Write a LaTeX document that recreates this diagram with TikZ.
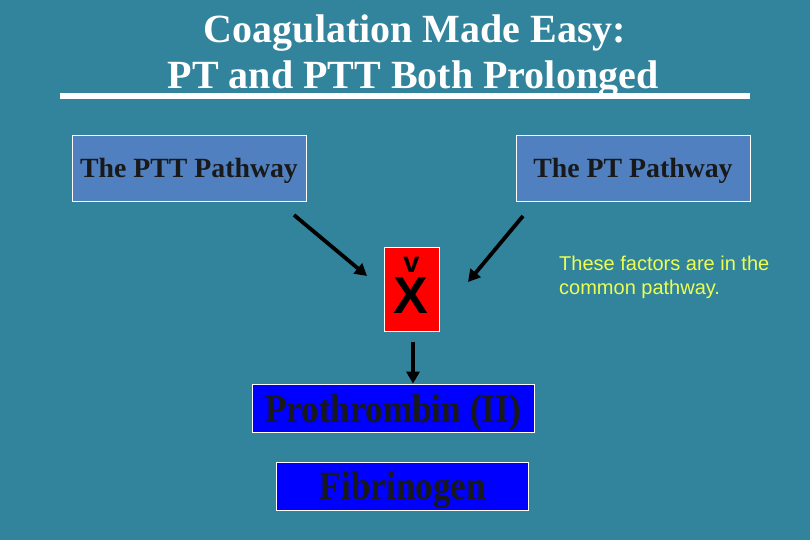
\documentclass[tikz,border=0pt]{standalone}
\usepackage{fontspec}
\setmainfont{Liberation Serif}
\newfontfamily\arialfont{Liberation Sans}
\newfontfamily\condserif[FakeStretch=0.88]{Liberation Serif}
\usetikzlibrary{arrows.meta}
\definecolor{bg}{RGB}{50,131,156}
\definecolor{pathblue}{RGB}{80,128,192}
\definecolor{pureblue}{RGB}{0,0,255}
\definecolor{xred}{RGB}{255,0,0}
\definecolor{noteyellow}{RGB}{236,255,80}
\tikzset{
  pathbox/.style={draw=white, line width=0.8pt, fill=pathblue, minimum width=234pt, minimum height=66pt, inner sep=0pt},
  pathtext/.style={anchor=base, inner sep=0pt, font=\bfseries\fontsize{27.8}{30}\selectfont, text=black!90},
  bluebox/.style={draw=white, line width=0.8pt, fill=pureblue, inner sep=0pt, minimum height=48pt},
  bluetext/.style={anchor=base, inner sep=0pt, font=\condserif\bfseries\fontsize{40}{40}\selectfont, text=black!90},
  arr/.style={line width=3.8pt, -{Triangle[length=12pt,width=13pt]}, black},
}
\begin{document}
\begin{tikzpicture}[x=1pt,y=-1pt]
\fill[bg] (0,0) rectangle (810,540);
\useasboundingbox (0,0) rectangle (810,540);
\node[font=\bfseries\fontsize{40}{46}\selectfont, text=white, anchor=base, inner sep=0pt] (title1) at (415,43) {Coagulation Made Easy:};
\node[font=\bfseries\fontsize{40}{46}\selectfont, text=white, anchor=base, inner sep=0pt] (title2) at (413,89) {PT and PTT Both Prolonged};
\fill[white] (60,93) rectangle (750,99);
\node[pathbox] (ptt) at (189,168) {};
\node[pathtext] (ptttext) at (189,177) {The PTT Pathway};
\node[pathbox] (pt) at (633,168) {};
\node[pathtext] (pttext) at (633,177) {The PT Pathway};
\node[draw=white, line width=0.8pt, fill=xred, minimum width=55pt, minimum height=84pt, inner sep=0pt] (x) at (411.5,289) {};
\node[font=\arialfont\bfseries\fontsize{29}{29}\selectfont, inner sep=0pt, anchor=base] (v) at (411.5,272) {v};
\node[font=\arialfont\bfseries\fontsize{52}{52}\selectfont, inner sep=0pt, anchor=base] (xl) at (410.5,313) {X};
\coordinate (a1s) at (294,215);
\coordinate (a1e) at (367,276);
\coordinate (a2s) at (523,216);
\coordinate (a2e) at (468,282);
\draw[arr] (a1s) -- (a1e);
\draw[arr] (a2s) -- (a2e);
\node[bluebox, minimum width=282pt] (pro) at (393,408) {};
\node[bluetext] (protext) at (393,422) {Prothrombin (II)};
\node[bluebox, minimum width=252pt] (fib) at (402,486) {};
\node[bluetext] (fibtext) at (403,499) {Fibrinogen};
\coordinate (dst) at (413,342);
\draw[arr] (dst) -- (dst |- pro.north);
\node[font=\arialfont\fontsize{20}{24}\selectfont, text=noteyellow, align=left, anchor=base west, inner sep=0pt] (note) at (559,294) {These factors are in the\\common pathway.};
\end{tikzpicture}
\end{document}
